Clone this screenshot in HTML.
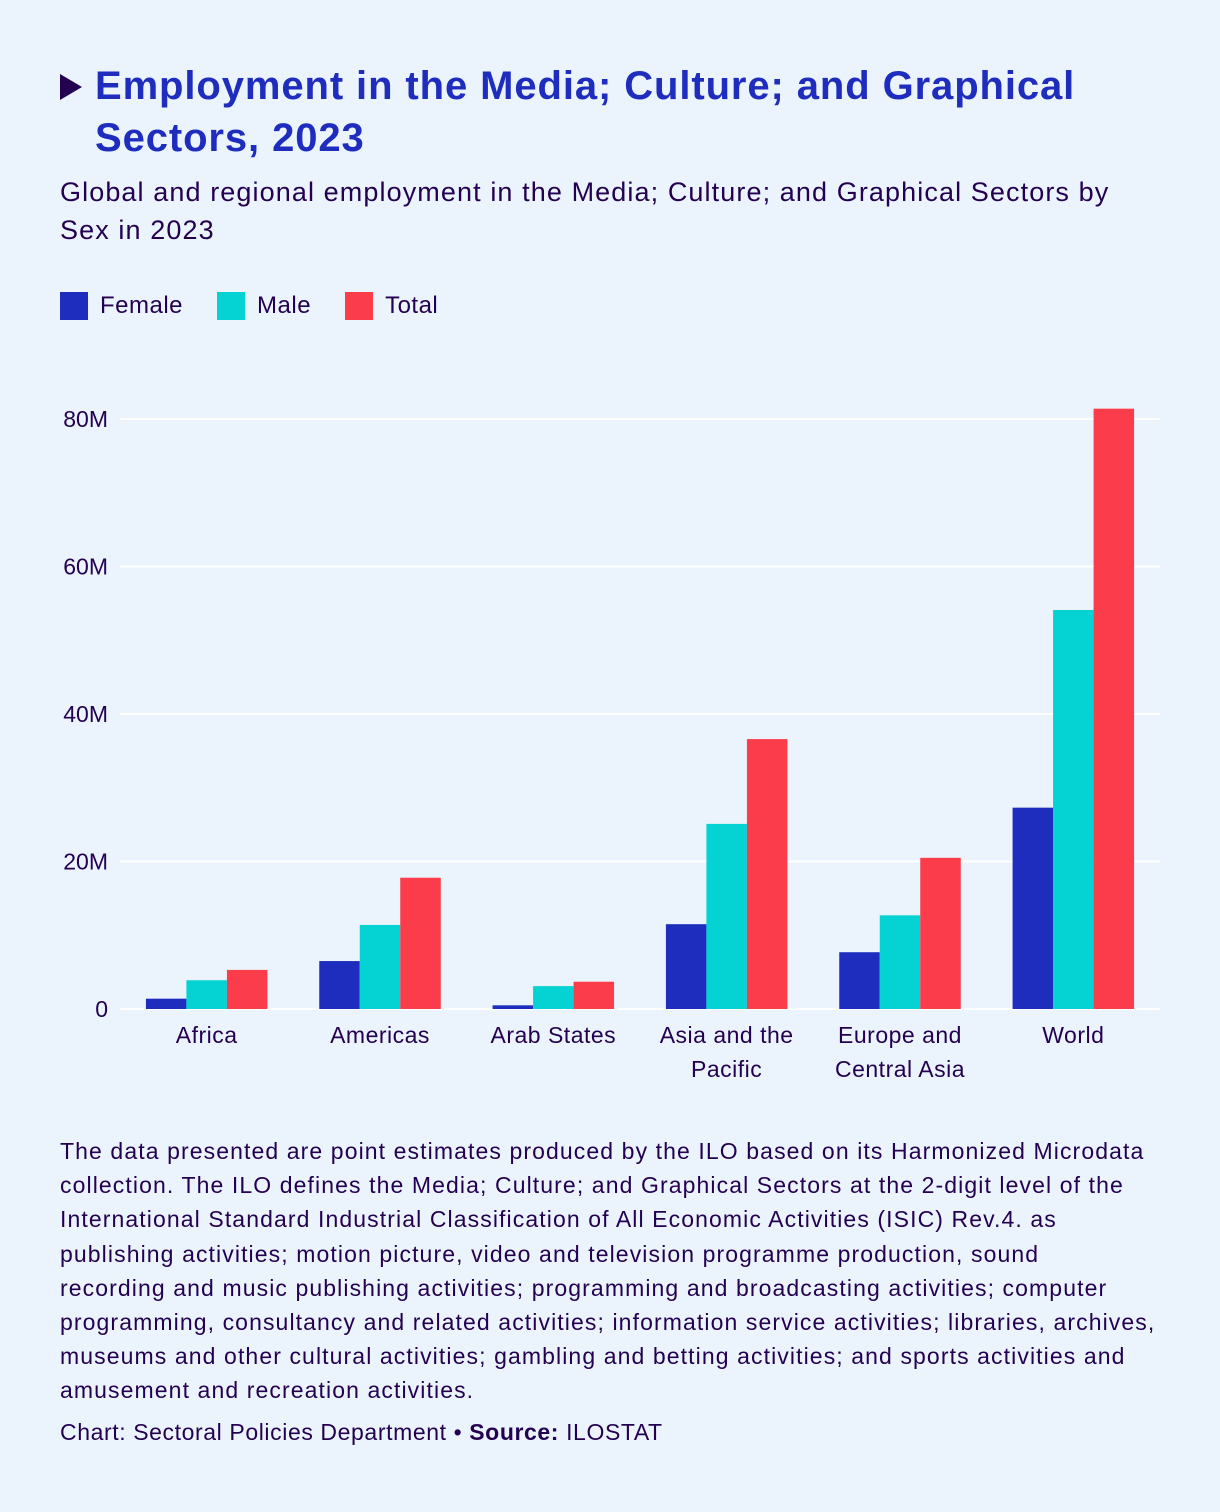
<!DOCTYPE html>
<html><head><meta charset="utf-8">
<style>
body{margin:0;background:#ebf4fd;font-family:"Liberation Sans",sans-serif;color:#230050;}
#wrap{position:relative;width:1220px;height:1512px;overflow:hidden;}
.title{position:absolute;left:95px;top:60px;width:1100px;font-size:40px;font-weight:bold;color:#1e2dbe;line-height:52px;white-space:nowrap;letter-spacing:0.9px;}
.tri{position:absolute;left:60px;top:74px;width:0;height:0;border-top:13px solid transparent;border-bottom:13px solid transparent;border-left:22px solid #230050;}
.sub{position:absolute;left:60px;top:173px;width:1120px;font-size:27px;line-height:38px;white-space:nowrap;letter-spacing:1.1px;}
.legend{position:absolute;left:60px;top:292px;font-size:24px;display:flex;align-items:center;letter-spacing:0.5px;}
.sw{width:28px;height:28px;margin-right:12px;display:inline-block;}
.li{display:flex;align-items:center;margin-right:34px;}
.note{position:absolute;left:60px;top:1134px;width:1130px;font-size:23px;line-height:34.2px;white-space:nowrap;letter-spacing:1.1px;}
.src{position:absolute;left:60px;top:1419px;font-size:23px;letter-spacing:0.6px;}
</style></head><body>
<div id="wrap">
<div class="tri"></div>
<div class="title">Employment in the Media; Culture; and Graphical<br>Sectors, 2023</div>
<div class="sub">Global and regional employment in the Media; Culture; and Graphical Sectors by<br>Sex in 2023</div>
<div class="legend">
<div class="li"><span class="sw" style="background:#1e2dbe"></span>Female</div>
<div class="li"><span class="sw" style="background:#05d2d2"></span>Male</div>
<div class="li"><span class="sw" style="background:#fa3c4b"></span>Total</div>
</div>
<svg id="chart" width="1220" height="1100" style="position:absolute;left:0;top:0"></svg>
<div class="note">The data presented are point estimates produced by the ILO based on its Harmonized Microdata<br>collection. The ILO defines the Media; Culture; and Graphical Sectors at the 2-digit level of the<br>International Standard Industrial Classification of All Economic Activities (ISIC) Rev.4. as<br>publishing activities; motion picture, video and television programme production, sound<br>recording and music publishing activities; programming and broadcasting activities; computer<br>programming, consultancy and related activities; information service activities; libraries, archives,<br>museums and other cultural activities; gambling and betting activities; and sports activities and<br>amusement and recreation activities.</div>
<div class="src">Chart: Sectoral Policies Department • <b>Source:</b> ILOSTAT</div>
</div>
<script>
const categories=[["Africa"],["Americas"],["Arab States"],["Asia and the","Pacific"],["Europe and","Central Asia"],["World"]];
const female=[1.4,6.5,0.5,11.5,7.7,27.3];
const male=[3.9,11.4,3.1,25.1,12.7,54.1];
const total=[5.3,17.8,3.7,36.6,20.5,81.4];
const ticks=[0,20,40,60,80];
const tickLabels=["0","20M","40M","60M","80M"];
const seriesNames=["female","male","total"];
const NS="http://www.w3.org/2000/svg";
const svg=document.getElementById('chart');
const x0=120,x1=1160,y0=1009,yTop=419,vmax=80;
const y=v=>y0-(v/vmax)*(y0-yTop);
const band=(x1-x0)/categories.length;
const bw=40.5;
function mk(t,a){const e=document.createElementNS(NS,t);for(const k in a)e.setAttribute(k,a[k]);svg.appendChild(e);return e;}
ticks.forEach((t,i)=>{
 if(t>0){const g=mk('line',{x1:x0,x2:x1,y1:y(t),y2:y(t),stroke:'#ffffff','stroke-width':2});
 
 }
 const l=mk('text',{x:108,y:y(t)+8,'text-anchor':'end','font-size':23,fill:'#230050','font-family':'Liberation Sans, sans-serif'});
 l.textContent=tickLabels[i];
 
 
});
const base=mk('line',{x1:x0,x2:x1,y1:y0,y2:y0,stroke:'#ffffff','stroke-width':2});


const series=[female,male,total];const colors=['#1e2dbe','#05d2d2','#fa3c4b'];
categories.forEach((c,i)=>{
 const cx=x0+band*(i+0.5);
 series.forEach((s,j)=>{
  const r=mk('rect',{x:cx-1.5*bw+j*bw,y:y(s[i]),width:bw,height:y0-y(s[i]),fill:colors[j]});
  
  
 });
 c.forEach((line,k)=>{
  const t=mk('text',{x:cx,y:1043+k*34,'text-anchor':'middle','font-size':23,fill:'#230050','font-family':'Liberation Sans, sans-serif','letter-spacing':0.5});
  t.textContent=line;
  
  
 });
});
</script>
</body></html>
